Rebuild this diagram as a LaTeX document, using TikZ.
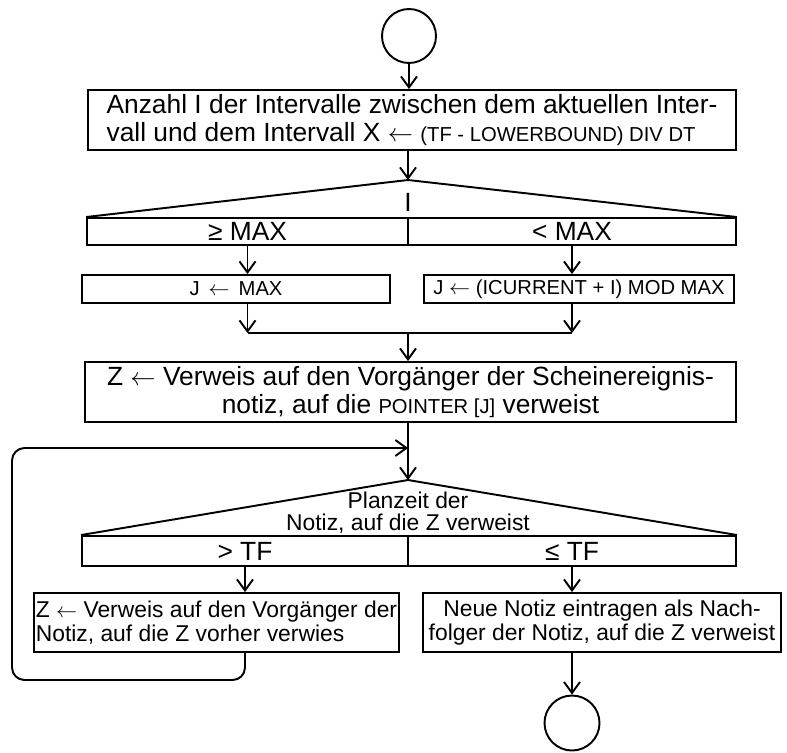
\documentclass[tikz,border=0pt]{standalone}
\usepackage{fontspec}
\setmainfont{Liberation Sans}
\usetikzlibrary{arrows.meta}
\newcommand{\kw}[1]{{\fontsize{11.5}{13}\selectfont #1}}

\begin{document}
\begin{tikzpicture}[x=0.02cm,y=-0.02cm,line width=1.1pt,
    >={Straight Barb[length=2.2mm,width=3.2mm]},
    box/.style={draw,rectangle,inner sep=1pt,font=\fontsize{15}{16}\selectfont},
    term/.style={draw,circle,inner sep=0pt}]
    \useasboundingbox (0,0) rectangle (787,752);

    % Start
    \node[term,minimum size=1.08cm] (start) at (409,36) {};

    \node[box,minimum width=12.96cm,minimum height=1.2cm,align=left] (anzahl) at (412,120)
        {Anzahl I der Intervalle zwischen dem aktuellen Inter-\\
         vall und dem Intervall X $\leftarrow$ \kw{(TF - LOWERBOUND) DIV DT}};

    \draw[->] (start) -- (start |- anzahl.north);

    % Verzweigung nach I
    \coordinate (apex1) at (408,180);
    \node[box,minimum width=6.42cm,minimum height=0.54cm] (ge) at (247.5,231.5) {≥ MAX};
    \node[box,minimum width=6.56cm,minimum height=0.54cm] (lt) at (572,231.5) {< MAX};
    \draw (ge.north west) -- (apex1) -- (lt.north east);
    \node[font=\fontsize{15}{16}\selectfont] (icond) at (408,202) {I};

    \draw[->] (apex1 |- anzahl.south) -- (apex1);

    \node[box,minimum width=6.16cm,minimum height=0.56cm] (jmax) at (236,289)
        {\kw{J\, $\leftarrow$\, MAX}};
    \node[box,minimum width=6.2cm,minimum height=0.56cm] (jmod) at (579,289)
        {\kw{J $\leftarrow$ (ICURRENT + I) MOD MAX}};

    \draw[->] (ge.south) -- (ge.south |- jmax.north);
    \draw[->] (lt.south) -- (lt.south |- jmod.north);

    % Zusammenfuehrung
    \coordinate (merge) at (408,333);
    \draw[->] (ge.south |- jmax.south) -- (ge.south |- merge);
    \draw[->] (lt.south |- jmod.south) -- (lt.south |- merge);
    \draw (ge.south |- merge) -- (lt.south |- merge);

    \node[box,minimum width=13.02cm,minimum height=1.2cm,align=center] (zbox) at (410.5,392)
        {Z $\leftarrow$ Verweis auf den Vorgänger der Scheinereignis-\\
         notiz, auf die \kw{POINTER [J]} verweist};

    \draw[->] (merge) -- (merge |- zbox.north);

    % Schleife ueber die Planzeit
    \coordinate (apex2) at (408,480);
    \coordinate (loopin) at (408,448);
    \coordinate (loopbl) at (12,680);
    \node[box,minimum width=6.52cm,minimum height=0.6cm] (gt) at (245,551) {> TF};
    \node[box,minimum width=6.56cm,minimum height=0.6cm] (le) at (572,551) {≤ TF};
    \draw (gt.north west) -- (apex2) -- (le.north east);
    \node[align=center,anchor=south,inner sep=1.5pt,font=\fontsize{13}{12.5}\selectfont]
        (planzeit) at (408,537) {Planzeit der\\Notiz, auf die Z verweist};

    \draw[->] (apex2 |- zbox.south) -- (apex2);

    \node[box,minimum width=7.1cm,minimum height=1.18cm,align=left,
        font=\fontsize{13}{13.5}\selectfont] (vorg) at (216.5,622.5)
        {Z $\leftarrow$ Verweis auf den Vorgänger der\\
         Notiz, auf die Z vorher verwies};
    \node[box,minimum width=7.16cm,minimum height=1.18cm,align=center,
        font=\fontsize{13}{13.5}\selectfont] (neue) at (602,622.5)
        {Neue Notiz eintragen als Nach-\\
         folger der Notiz, auf die Z verweist};

    \draw[->] (gt.south) -- (gt.south |- vorg.north);
    \draw[->] (le.south) -- (le.south |- neue.north);

    \draw[->,rounded corners=0.25cm] (gt.south |- vorg.south) -- (gt.south |- loopbl)
        -- (loopbl) -- (loopbl |- loopin) -- (loopin);

    % Ende
    \node[term,minimum size=1.1cm] (stop) at (572,723) {};
    \draw[->] (le.south |- neue.south) -- (stop);
\end{tikzpicture}
\end{document}
